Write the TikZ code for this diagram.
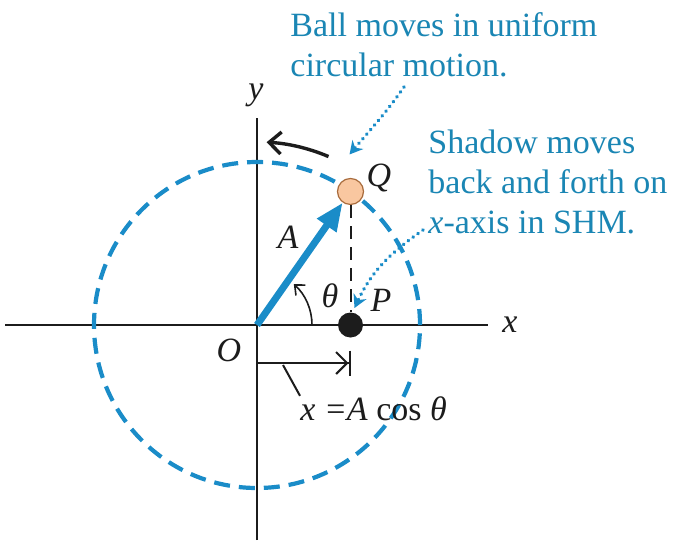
\documentclass[tikz,border=0pt]{standalone}
\usepackage{fontspec}
\setmainfont{Liberation Serif}
\usetikzlibrary{arrows.meta,calc}
\definecolor{SHMBlue}    {HTML}{1A8CC8}
\definecolor{SHMNote}    {HTML}{1A86B4}
\definecolor{SHMBall}    {HTML}{F9C7A0}
\definecolor{SHMBallEdge}{HTML}{A86B3C}
\definecolor{SHMInk}     {HTML}{1C1C1C}

\begin{document}
\begin{tikzpicture}[x=0.5pt,y=0.5pt,
    note/.style={font=\fontsize{17}{20}\selectfont,text=SHMNote,align=left,anchor=north west,inner sep=0pt},
    lab/.style={font=\fontsize{17}{20}\selectfont\itshape,text=SHMInk,inner sep=0pt},
    dotline/.style={SHMBlue,line width=1.9pt,dash pattern=on 0.1pt off 2.9pt,line cap=round,-{Stealth[length=6.5pt,width=7pt]}}]
    \fill[white] (0,0) rectangle (688,547);
    \useasboundingbox (0,0) rectangle (688,547);

    % axes
    \coordinate (O) at (257,222);
    \draw[SHMInk,line width=0.8pt] (5,222) -- (488,222);
    \draw[SHMInk,line width=0.8pt] (257,7) -- (257,429);
    \node[lab] (laby) at (256,452) {y};
    \node[lab] (labx) at (510,222) {x};
    \node[lab] (labO) at (229,197) {O};

    % circle
    \draw[SHMBlue,line width=2.1pt,dash pattern=on 8pt off 4.5pt] (O) circle[radius=163];

    % ball Q and shadow P
    \node[circle,fill=SHMBall,draw=SHMBallEdge,line width=0.6pt,minimum size=13pt,inner sep=0pt] (ballQ) at ($(O)+(55:163)$) {};
    \node[circle,fill=SHMInk,minimum size=12.5pt,inner sep=0pt] (dotP) at (ballQ |- O) {};
    \draw[SHMInk,line width=1pt,dash pattern=on 6.5pt off 4pt] (ballQ) -- (dotP);
    \node[lab] (labQ) at (379,369) {Q};
    \node[lab] (labP) at (381,247) {P};

    % vector A
    \draw[SHMBlue,line width=3.5pt,-{Triangle[length=14pt,width=11pt]}] (O) -- (ballQ);
    \node[lab] (labA) at (288,310) {A};

    % angle
    \draw[SHMInk,line width=0.8pt,-{Straight Barb[length=4pt,width=7pt]}] ($(O)+(55,0)$) arc[start angle=0,end angle=48,radius=55];
    \node[lab] (labT) at (330,251) {θ};

    % direction of motion
    \draw[SHMInk,line width=1.7pt,-{Straight Barb[length=6pt,width=11pt]}] ($(O)+(67:183)$) arc[start angle=67,end angle=87,radius=183];

    % x = A cos theta
    \coordinate (mstart) at (257,184);
    \draw[SHMInk,line width=1pt,-{Straight Barb[length=5.5pt,width=11pt,sep=0pt]Bar[width=12.5pt]}] (mstart) -- (mstart -| dotP);
    \node[lab,anchor=base west] (xcos) at (300,127) {x =A \textup{cos} θ};
    \coordinate (lead) at (283,182);
    \draw[SHMInk,line width=1pt] (lead) -- (xcos.north west);

    % notes
    \node[note] (noteBall) at (290,535) {Ball moves in uniform\\circular motion.};
    \node[note] (noteShadow) at (428,417) {Shadow moves\\back and forth on\\\textit{x}-axis in SHM.};
    \coordinate (ballTail) at (404,460);
    \coordinate (ballTip) at ($(ballQ)+(-1,37)$);
    \coordinate (shadowTail) at (423,317);
    \coordinate (shadowTip) at ($(dotP)+(4,17)$);
    \draw[dotline] (ballTail) to[out=235,in=50] (ballTip);
    \draw[dotline] (shadowTail) to[out=215,in=65] (shadowTip);
\end{tikzpicture}
\end{document}
